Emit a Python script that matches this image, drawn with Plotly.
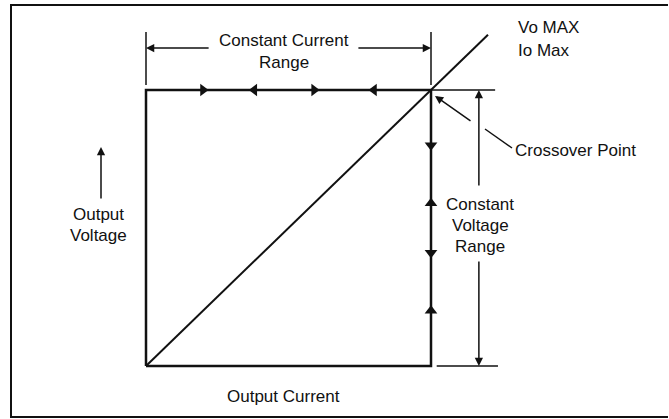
import plotly.graph_objects as go

# ---- Diagram data (normalized units: Io max = 1, Vo max = 1) ----
boundary_i = [0, 0, 1, 1, 0]
boundary_v = [0, 1, 1, 0, 0]
load_line_i = [0, 1.2]
load_line_v = [0, 1.2]

cc_arrow_i = [0.20, 0.38, 0.59, 0.80]
cc_arrow_sym = ["triangle-right", "triangle-left", "triangle-right", "triangle-left"]
cv_arrow_v = [0.80, 0.59, 0.41, 0.20]
cv_arrow_sym = ["triangle-down", "triangle-up", "triangle-down", "triangle-up"]

cc_dim_v = 1.152          # constant-current dimension line level
cc_tick_v = [1.018, 1.21]
cc_gap_i = [0.225, 0.74]  # text gap on CC dimension line
cv_dim_i = 1.168          # constant-voltage dimension line position
cv_gap_v = [0.649, 0.384]
ext_top_i = [1.0, 1.225]
ext_bot_i = [1.02, 1.235]

labels_cc = ["Constant Current", "Range"]
labels_cv = ["Constant", "Voltage", "Range"]
labels_vout = ["Output", "Voltage"]
label_iout = "Output Current"
label_vmax = "Vo MAX"
label_imax = "Io Max"
label_cross = "Crossover Point"

# ---- pixel mapping of the figure ----
W, H = 669, 419
ox, oy = 146, 366   # origin pixel
cx, cy = 431, 90    # crossover pixel
sx = (cx - ox)
sy = (oy - cy)
def X(px): return (px - ox) / sx
def Y(py): return (oy - py) / sy

FONT = "Liberation Sans, Arial, sans-serif"
fs = 17
black = "#111111"

fig = go.Figure()

def line(xs, ys, w=2.0, dash="solid"):
    fig.add_trace(go.Scatter(x=xs, y=ys, mode="lines",
                             line=dict(color=black, width=w, dash=dash),
                             hoverinfo="skip", showlegend=False))

# outer frame (left, top, bottom)
line([X(668), X(11), X(11), X(668)], [Y(5), Y(5), Y(417), Y(417)], w=2)

# operating boundary and load line
line(boundary_i, boundary_v, w=2.5)
line(load_line_i, load_line_v, w=2)

# extension lines
line(ext_top_i, [1, 1], w=1.3)
line(ext_bot_i, [0, 0], w=1.3)

# CC dimension ticks
line([0, 0], cc_tick_v, w=1.5)
line([1, 1], cc_tick_v, w=1.5)

# direction arrows on boundary
fig.add_trace(go.Scatter(x=cc_arrow_i, y=[1] * len(cc_arrow_i), mode="markers",
                         marker=dict(symbol=cc_arrow_sym, size=11, color=black),
                         hoverinfo="skip", showlegend=False))
fig.add_trace(go.Scatter(x=[1] * len(cv_arrow_v), y=cv_arrow_v, mode="markers",
                         marker=dict(symbol=cv_arrow_sym, size=11, color=black),
                         hoverinfo="skip", showlegend=False))

def arrow(hx, hy, tx, ty, w=1.5):
    fig.add_annotation(x=hx, y=hy, ax=tx, ay=ty, xref="x", yref="y",
                       axref="x", ayref="y", text="", showarrow=True,
                       arrowhead=2, arrowsize=1.1, arrowwidth=w,
                       arrowcolor=black, standoff=0, startstandoff=0)

# CC dimension arrows
arrow(0, cc_dim_v, cc_gap_i[0], cc_dim_v)
arrow(1, cc_dim_v, cc_gap_i[1], cc_dim_v)
# CV dimension arrows
arrow(cv_dim_i, 1, cv_dim_i, cv_gap_v[0])
arrow(cv_dim_i, 0, cv_dim_i, cv_gap_v[1])
# output voltage arrow
arrow(X(101), Y(147), X(101), Y(200))
# crossover leader
line([X(512), X(485)], [Y(148), Y(129)], w=1.5)
arrow(X(435), Y(96), X(472), Y(122))

def text(t, x, y, xanchor="center"):
    fig.add_annotation(x=x, y=y, xref="x", yref="y", text=t, showarrow=False,
                       xanchor=xanchor, yanchor="middle",
                       font=dict(family=FONT, size=fs, color=black))

text(labels_cc[0], X(284), Y(40))
text(labels_cc[1], X(284), Y(62))
for t, py in zip(labels_cv, [204, 225, 246]):
    text(t, X(480), Y(py))
for t, py in zip(labels_vout, [214, 235]):
    text(t, X(98), Y(py))
text(label_iout, X(283), Y(396))
text(label_vmax, X(516), Y(27), xanchor="left")
text(label_imax, X(516), Y(50), xanchor="left")
text(label_cross, X(513), Y(150), xanchor="left")

fig.update_layout(
    width=W, height=H, margin=dict(l=0, r=0, t=0, b=0),
    paper_bgcolor="white", plot_bgcolor="white",
    xaxis=dict(range=[X(0), X(W)], visible=False, fixedrange=True),
    yaxis=dict(range=[Y(H), Y(0)], visible=False, fixedrange=True),
    showlegend=False, hovermode=False,
)
fig.write_html("out.html", config={"displayModeBar": False, "staticPlot": True},
               post_script=("document.documentElement.style.overflow='hidden';"
                            "document.body.style.overflow='hidden';"
                            "document.body.style.margin='0';"
                            "document.body.style.padding='0';"))
